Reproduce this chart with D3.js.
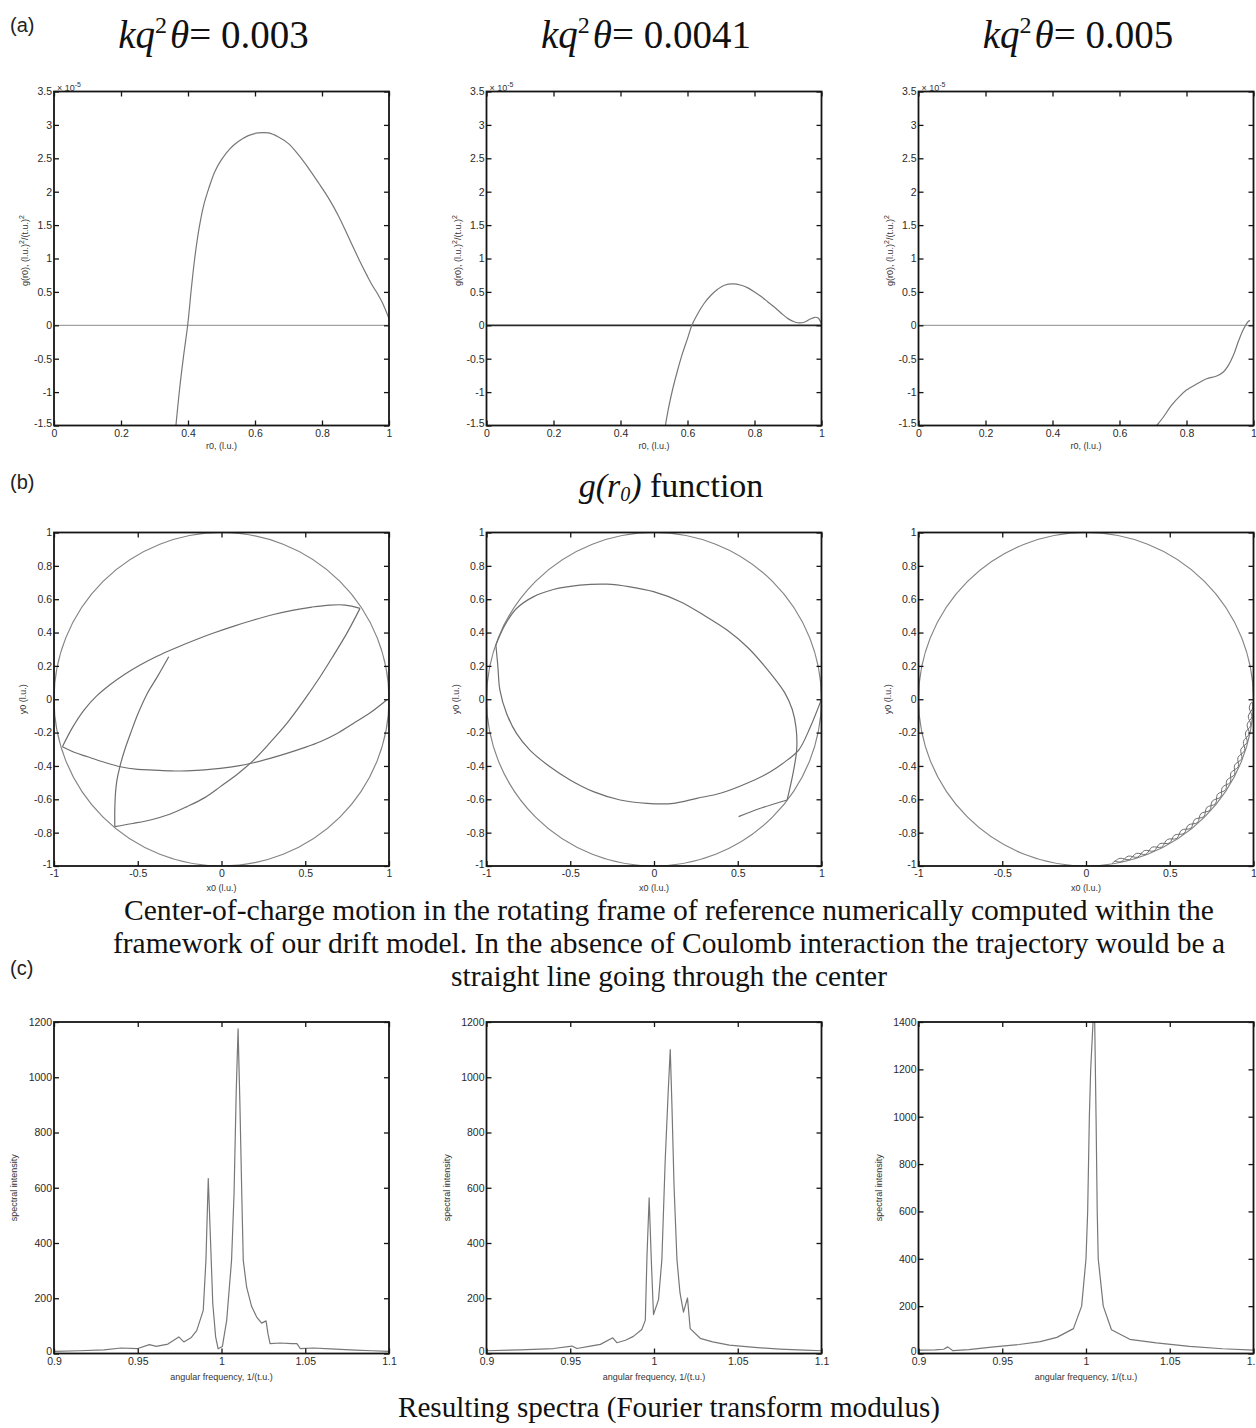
<!DOCTYPE html>
<html><head><meta charset="utf-8">
<script src="https://cdn.jsdelivr.net/npm/d3@7"></script>
<style>body{margin:0;background:#fff} svg{display:block}</style>
</head><body>
<svg id="fig" width="1256" height="1428"></svg>
<script>
// ---------------- data ----------------
const titleValues = ["0.003", "0.0041", "0.005"];
const gTicksX = [0, 0.2, 0.4, 0.6, 0.8, 1];
const gTicksY = [-1.5, -1, -0.5, 0, 0.5, 1, 1.5, 2, 2.5, 3, 3.5];
const bTicksX = [-1, -0.5, 0, 0.5, 1];
const bTicksY = [-1, -0.8, -0.6, -0.4, -0.2, 0, 0.2, 0.4, 0.6, 0.8, 1];
const cTicksX = [0.9, 0.95, 1, 1.05, 1.1];
const cTicksY12 = [0, 200, 400, 600, 800, 1000, 1200];
const cTicksY14 = [0, 200, 400, 600, 800, 1000, 1200, 1400];

// g(r0) in units of 1e-5
const g1R = [0.364,0.375,0.387,0.399,0.41,0.42,0.433,0.447,0.462,0.48,0.50,0.525,0.55,0.58,0.61,0.64,0.67,0.70,0.73,0.76,0.79,0.82,0.85,0.88,0.91,0.935,0.95,0.965,0.98,1.0];
const g1V = [-1.5,-0.95,-0.45,0,0.55,1.0,1.45,1.8,2.05,2.3,2.48,2.64,2.75,2.84,2.88,2.88,2.82,2.72,2.55,2.35,2.13,1.9,1.63,1.31,0.99,0.74,0.6,0.48,0.34,0.1];
const g2R = [0.534,0.545,0.556,0.57,0.585,0.6,0.613,0.63,0.65,0.67,0.69,0.71,0.737,0.76,0.78,0.80,0.82,0.84,0.86,0.88,0.90,0.92,0.935,0.95,0.965,0.98,0.99,1.0];
const g2V = [-1.5,-1.2,-0.95,-0.68,-0.42,-0.2,0,0.17,0.33,0.45,0.54,0.6,0.62,0.6,0.56,0.5,0.43,0.35,0.27,0.18,0.1,0.05,0.035,0.05,0.09,0.12,0.11,0.02];
const g3R = [0.711,0.73,0.755,0.78,0.80,0.83,0.86,0.89,0.91,0.925,0.94,0.955,0.97,0.985,0.99];
const g3V = [-1.5,-1.38,-1.2,-1.06,-0.97,-0.88,-0.8,-0.76,-0.7,-0.6,-0.45,-0.24,-0.06,0.06,0.07];

// center-of-charge trajectories (x0, y0), with cusp indices
const b1X = [-0.315,-0.38,-0.443,-0.50,-0.543,-0.58,-0.607,-0.625,-0.633,-0.637,-0.637,
 -0.53,-0.424,-0.31,-0.206,-0.1,-0.007,0.1,0.192,0.29,0.39,0.49,0.589,0.67,0.748,0.827,
 0.74,0.648,0.54,0.43,0.31,0.192,0.07,-0.047,-0.165,-0.285,-0.385,-0.483,-0.575,-0.662,-0.745,-0.821,-0.89,-0.95,
 -0.88,-0.80,-0.70,-0.603,-0.50,-0.404,-0.30,-0.206,-0.10,-0.007,0.10,0.192,0.29,0.39,0.49,0.589,0.69,0.787,0.89,0.986];
const b1Y = [0.255,0.14,0.035,-0.09,-0.205,-0.31,-0.405,-0.49,-0.564,-0.66,-0.764,
 -0.745,-0.724,-0.69,-0.644,-0.59,-0.524,-0.445,-0.365,-0.26,-0.145,-0.01,0.135,0.265,0.395,0.545,
 0.565,0.565,0.553,0.535,0.508,0.475,0.437,0.397,0.352,0.303,0.258,0.207,0.152,0.09,0.02,-0.065,-0.17,-0.285,
 -0.318,-0.345,-0.378,-0.405,-0.42,-0.425,-0.43,-0.429,-0.424,-0.415,-0.40,-0.381,-0.355,-0.325,-0.292,-0.255,-0.205,-0.145,-0.08,-0.005];
const b1Cusps = [10, 25, 43];
const b2X = [0.505,0.635,0.795,
 0.83,0.852,0.848,0.825,0.78,0.655,0.555,0.436,0.296,0.157,-0.003,-0.143,-0.282,-0.442,-0.601,-0.721,-0.821,-0.89,-0.944,
 -0.932,-0.92,-0.88,-0.821,-0.741,-0.621,-0.501,-0.362,-0.202,-0.043,0.117,0.256,0.396,0.555,0.695,0.795,0.864,0.934,1.0];
const b2Y = [-0.704,-0.654,-0.604,
 -0.445,-0.3,-0.17,-0.06,0.04,0.205,0.315,0.415,0.505,0.585,0.645,0.674,0.69,0.684,0.658,0.614,0.544,0.445,0.325,
 0.195,0.055,-0.085,-0.205,-0.305,-0.405,-0.484,-0.554,-0.604,-0.624,-0.624,-0.594,-0.564,-0.504,-0.435,-0.365,-0.305,-0.165,0.0];
const b2Cusps = [2, 21];
// third trajectory read in polar form (angle in degrees, radius)
const b3Ang = [-81,-78,-75,-72,-69,-66,-63,-60,-57,-54,-51,-48,-45,-42,-39,-36,-33,-30,-27,-24,-21,-18,-15,-12,-9,-6,-3,-1,
 -3,-6,-9,-12,-15,-18,-21,-24,-27,-30,-33,-36,-39,-42,-45,-48,-51,-54,-57,-60,-63,-66,-69,-72,-75,-78,-80];
const b3Rad = [0.997,0.975,0.996,0.972,0.996,0.971,0.995,0.971,0.995,0.970,0.995,0.970,0.995,0.970,0.995,0.970,0.995,0.971,0.995,0.971,0.996,0.972,0.996,0.973,0.996,0.974,0.997,0.99,
 0.976,0.996,0.974,0.996,0.973,0.996,0.972,0.995,0.971,0.995,0.970,0.995,0.970,0.995,0.970,0.995,0.971,0.995,0.971,0.996,0.972,0.996,0.972,0.996,0.974,0.997,0.985];
const wallRadius = 1;

// spectra
const c1F = [0.900,0.915,0.930,0.940,0.950,0.957,0.961,0.968,0.9745,0.9775,0.982,0.9852,0.9891,0.9907,0.9921,0.9935,0.9948,0.9965,0.998,1.0005,1.0031,1.006,1.0075,1.0088,1.0099,1.011,1.0122,1.013,1.015,1.018,1.021,1.024,1.0266,1.0278,1.029,1.035,1.042,1.045,1.047,1.055,1.065,1.080,1.090,1.100];
const c1I = [8,10,13,20,18,32,26,34,60,42,58,83,156,337,633,400,180,60,17,25,120,337,580,950,1175,900,550,337,240,170,132,110,118,70,36,38,36,36,18,20,17,12,10,8];
const c2F = [0.900,0.920,0.940,0.951,0.954,0.962,0.968,0.9754,0.9778,0.983,0.9877,0.9927,0.9948,0.9958,0.9971,0.9985,0.9997,1.0027,1.0047,1.0067,1.0085,1.0097,1.0107,1.012,1.0137,1.0155,1.0176,1.020,1.0216,1.0276,1.035,1.045,1.060,1.075,1.090,1.100];
const c2I = [10,13,18,27,18,27,33,57,39,48,62,87,120,350,563,320,141,195,340,701,950,1100,900,600,340,220,150,201,90,55,42,30,22,16,12,10];
const c3F = [0.9,0.91,0.915,0.9175,0.9205,0.93,0.945,0.96,0.9727,0.9826,0.9925,0.9974,1.0,1.001,1.002,1.0028,1.0042,1.0052,1.006,1.0067,1.0073,1.0103,1.0152,1.0261,1.042,1.0618,1.0816,1.1];
const c3I = [14,15,18,28,12,16,28,38,50,68,105,200,400,600,1000,1200,1400,1400,1000,600,400,200,100,60,45,30,20,14];

const captionB = ["Center-of-charge motion in the rotating frame of reference numerically computed within the",
                  "framework of our drift model. In the absence of Coulomb interaction the trajectory would be a",
                  "straight line going through the center"];
const captionC = "Resulting spectra (Fourier transform modulus)";

// ---------------- layout ----------------
const svg = d3.select("#fig");
const SANS = "'Liberation Sans', Arial, Helvetica, sans-serif";
const SERIF = "'Liberation Serif', 'Times New Roman', serif";
const colLeft = [54, 486.5, 918.5];
const PW = 335;
const rowA = {top: 91.5, h: 334}, rowB = {top: 532.5, h: 333.5}, rowC = {top: 1022, h: 331.5};
const CURVE = "#777", FRAME = "#151515";
let clipN = 0;

function makePanel(left, top, w, h, xDom, yDom, xT, yT) {
  const x = d3.scaleLinear().domain(xDom).range([left, left + w]);
  const y = d3.scaleLinear().domain(yDom).range([top + h, top]);
  const id = "clip" + (clipN++);
  svg.append("clipPath").attr("id", id).append("rect")
    .attr("x", left).attr("y", top).attr("width", w).attr("height", h);
  const g = svg.append("g");
  const plot = g.append("g").attr("clip-path", `url(#${id})`);
  const fmt = d => String(d);
  const style = s => {
    s.select(".domain").remove();
    s.selectAll("line").attr("stroke", FRAME).attr("stroke-width", 1.3);
    s.selectAll("text").attr("font-family", SANS).attr("font-size", 10.5).attr("fill", "#2a2a2a");
  };
  g.append("g").attr("transform", `translate(0,${top + h})`)
    .call(d3.axisBottom(x).tickValues(xT).tickFormat(fmt).tickSizeInner(-5).tickSizeOuter(0).tickPadding(4)).call(style);
  g.append("g").attr("transform", `translate(0,${top})`)
    .call(d3.axisTop(x).tickValues(xT).tickFormat(() => "").tickSizeInner(-5).tickSizeOuter(0)).call(style);
  const ly = g.append("g").attr("transform", `translate(${left},0)`)
    .call(d3.axisLeft(y).tickValues(yT).tickFormat(fmt).tickSizeInner(-5).tickSizeOuter(0).tickPadding(2)).call(style);
  ly.selectAll(".tick text").filter(d => d === yDom[0]).attr("dy", "0.1em");
  g.append("g").attr("transform", `translate(${left + w},0)`)
    .call(d3.axisRight(y).tickValues(yT).tickFormat(() => "").tickSizeInner(-5).tickSizeOuter(0)).call(style);
  g.append("rect").attr("x", left).attr("y", top).attr("width", w).attr("height", h)
    .attr("fill", "none").attr("stroke", FRAME).attr("stroke-width", 1.8);
  return {x, y, plot, g, left, top, w, h};
}

function smallLabel(x, y, text, rotate) {
  const t = svg.append("text").attr("font-family", SANS).attr("font-size", 9).attr("fill", "#333")
    .attr("text-anchor", "middle").text(text);
  if (rotate) t.attr("transform", `translate(${x},${y}) rotate(-90)`);
  else t.attr("x", x).attr("y", y);
  return t;
}

function drawLine(p, pts, curve, color, width) {
  p.plot.append("path").datum(pts)
    .attr("d", d3.line().x(d => p.x(d[0])).y(d => p.y(d[1])).curve(curve))
    .attr("fill", "none").attr("stroke", color).attr("stroke-width", width).attr("stroke-linejoin", "round");
}

function segments(X, Y, cusps) {
  const idx = [0, ...cusps, X.length - 1];
  const out = [];
  for (let i = 0; i < idx.length - 1; i++) {
    const s = [];
    for (let k = idx[i]; k <= idx[i + 1]; k++) s.push([X[k], Y[k]]);
    out.push(s);
  }
  return out;
}

// ---------------- row (a): g(r0) ----------------
const gR = [g1R, g2R, g3R], gV = [g1V, g2V, g3V];
for (let i = 0; i < 3; i++) {
  const p = makePanel(colLeft[i], rowA.top, PW, rowA.h, [0, 1], [-1.5, 3.5], gTicksX, gTicksY);
  p.plot.append("line").attr("x1", p.x(0)).attr("x2", p.x(1)).attr("y1", p.y(0)).attr("y2", p.y(0))
    .attr("stroke", i === 1 ? "#2a2a2a" : "#8a8a8a").attr("stroke-width", i === 1 ? 1.8 : 1);
  drawLine(p, d3.zip(gR[i], gV[i]), d3.curveCatmullRom, CURVE, 1.2);
  const ex = svg.append("text").attr("x", p.left + 3).attr("y", p.top - 1)
    .attr("font-family", SANS).attr("font-size", 9).attr("fill", "#333");
  ex.append("tspan").text("× 10");
  ex.append("tspan").attr("dy", -4).attr("font-size", 7).text("-5");
  smallLabel(p.left + p.w / 2, p.top + p.h + 23, "r0, (l.u.)");
  const yl = svg.append("text").attr("font-family", SANS).attr("font-size", 9).attr("fill", "#333")
    .attr("text-anchor", "middle").attr("transform", `translate(${p.left - 26},${p.top + p.h / 2 - 8}) rotate(-90)`);
  yl.append("tspan").text("g(r0), (l.u.)");
  yl.append("tspan").attr("dy", -4).attr("font-size", 7).text("2");
  yl.append("tspan").attr("dy", 4).text("/(t.u.)");
  yl.append("tspan").attr("dy", -4).attr("font-size", 7).text("2");

  const t = svg.append("text").attr("x", p.left + p.w / 2 - 8).attr("y", 48)
    .attr("font-family", SERIF).attr("font-size", 39).attr("fill", "#111").attr("text-anchor", "middle");
  t.append("tspan").attr("font-style", "italic").text("kq");
  t.append("tspan").attr("dy", -15).attr("font-size", 24).text("2");
  t.append("tspan").attr("dy", 15).attr("dx", 3).attr("font-style", "italic").text("θ");
  t.append("tspan").text("= " + titleValues[i]);
}

// ---------------- row (b): trajectories ----------------
const trajSegs = [segments(b1X, b1Y, b1Cusps), segments(b2X, b2Y, b2Cusps)];
for (let i = 0; i < 3; i++) {
  const p = makePanel(colLeft[i], rowB.top, PW, rowB.h, [-1, 1], [-1, 1], bTicksX, bTicksY);
  p.plot.append("ellipse").attr("cx", p.x(0)).attr("cy", p.y(0))
    .attr("rx", p.x(wallRadius) - p.x(0)).attr("ry", p.y(0) - p.y(wallRadius))
    .attr("fill", "none").attr("stroke", "#858585").attr("stroke-width", 1.2);
  if (i < 2) {
    trajSegs[i].forEach(s => drawLine(p, s, d3.curveCatmullRom, "#6e6e6e", 1.2));
  } else {
    const pts = b3Ang.map((a, k) => [b3Rad[k] * Math.cos(a * Math.PI / 180), b3Rad[k] * Math.sin(a * Math.PI / 180)]);
    drawLine(p, pts, d3.curveCatmullRom, "#6e6e6e", 1);
  }
  smallLabel(p.left + p.w / 2, p.top + p.h + 25, "x0 (l.u.)");
  smallLabel(p.left - 28, p.top + p.h / 2, "y0 (l.u.)", true);
}

// ---------------- row (c): spectra ----------------
const cF = [c1F, c2F, c3F], cI = [c1I, c2I, c3I];
const cMax = [1200, 1200, 1400], cTY = [cTicksY12, cTicksY12, cTicksY14];
for (let i = 0; i < 3; i++) {
  const p = makePanel(colLeft[i], rowC.top, PW, rowC.h, [0.9, 1.1], [0, cMax[i]], cTicksX, cTY[i]);
  drawLine(p, d3.zip(cF[i], cI[i]), d3.curveLinear, CURVE, 1.2);
  smallLabel(p.left + p.w / 2, p.top + p.h + 26, "angular frequency, 1/(t.u.)");
  smallLabel(p.left - 37, p.top + p.h / 2, "spectral intensity", true);
}

// ---------------- panel letters & captions ----------------
[["(a)", 32], ["(b)", 489], ["(c)", 975]].forEach(([s, yy]) =>
  svg.append("text").attr("x", 10).attr("y", yy).attr("font-family", SANS).attr("font-size", 20)
    .attr("fill", "#222").text(s));

const gf = svg.append("text").attr("x", 671).attr("y", 497).attr("text-anchor", "middle")
  .attr("font-family", SERIF).attr("font-size", 34).attr("fill", "#111");
gf.append("tspan").attr("font-style", "italic").text("g(r");
gf.append("tspan").attr("font-style", "italic").attr("font-size", 20).attr("dy", 4).text("0");
gf.append("tspan").attr("font-style", "italic").attr("dy", -4).text(")");
gf.append("tspan").text(" function");

const capW = [1090, 1112, 436], capY = [920, 953, 986];
captionB.forEach((s, k) =>
  svg.append("text").attr("x", 669).attr("y", capY[k]).attr("text-anchor", "middle")
    .attr("font-family", SERIF).attr("font-size", 29).attr("fill", "#111")
    .attr("textLength", capW[k]).attr("lengthAdjust", "spacingAndGlyphs").text(s));
svg.append("text").attr("x", 669).attr("y", 1417).attr("text-anchor", "middle")
  .attr("font-family", SERIF).attr("font-size", 29).attr("fill", "#111")
  .attr("textLength", 542).attr("lengthAdjust", "spacingAndGlyphs").text(captionC);
</script>
</body></html>
